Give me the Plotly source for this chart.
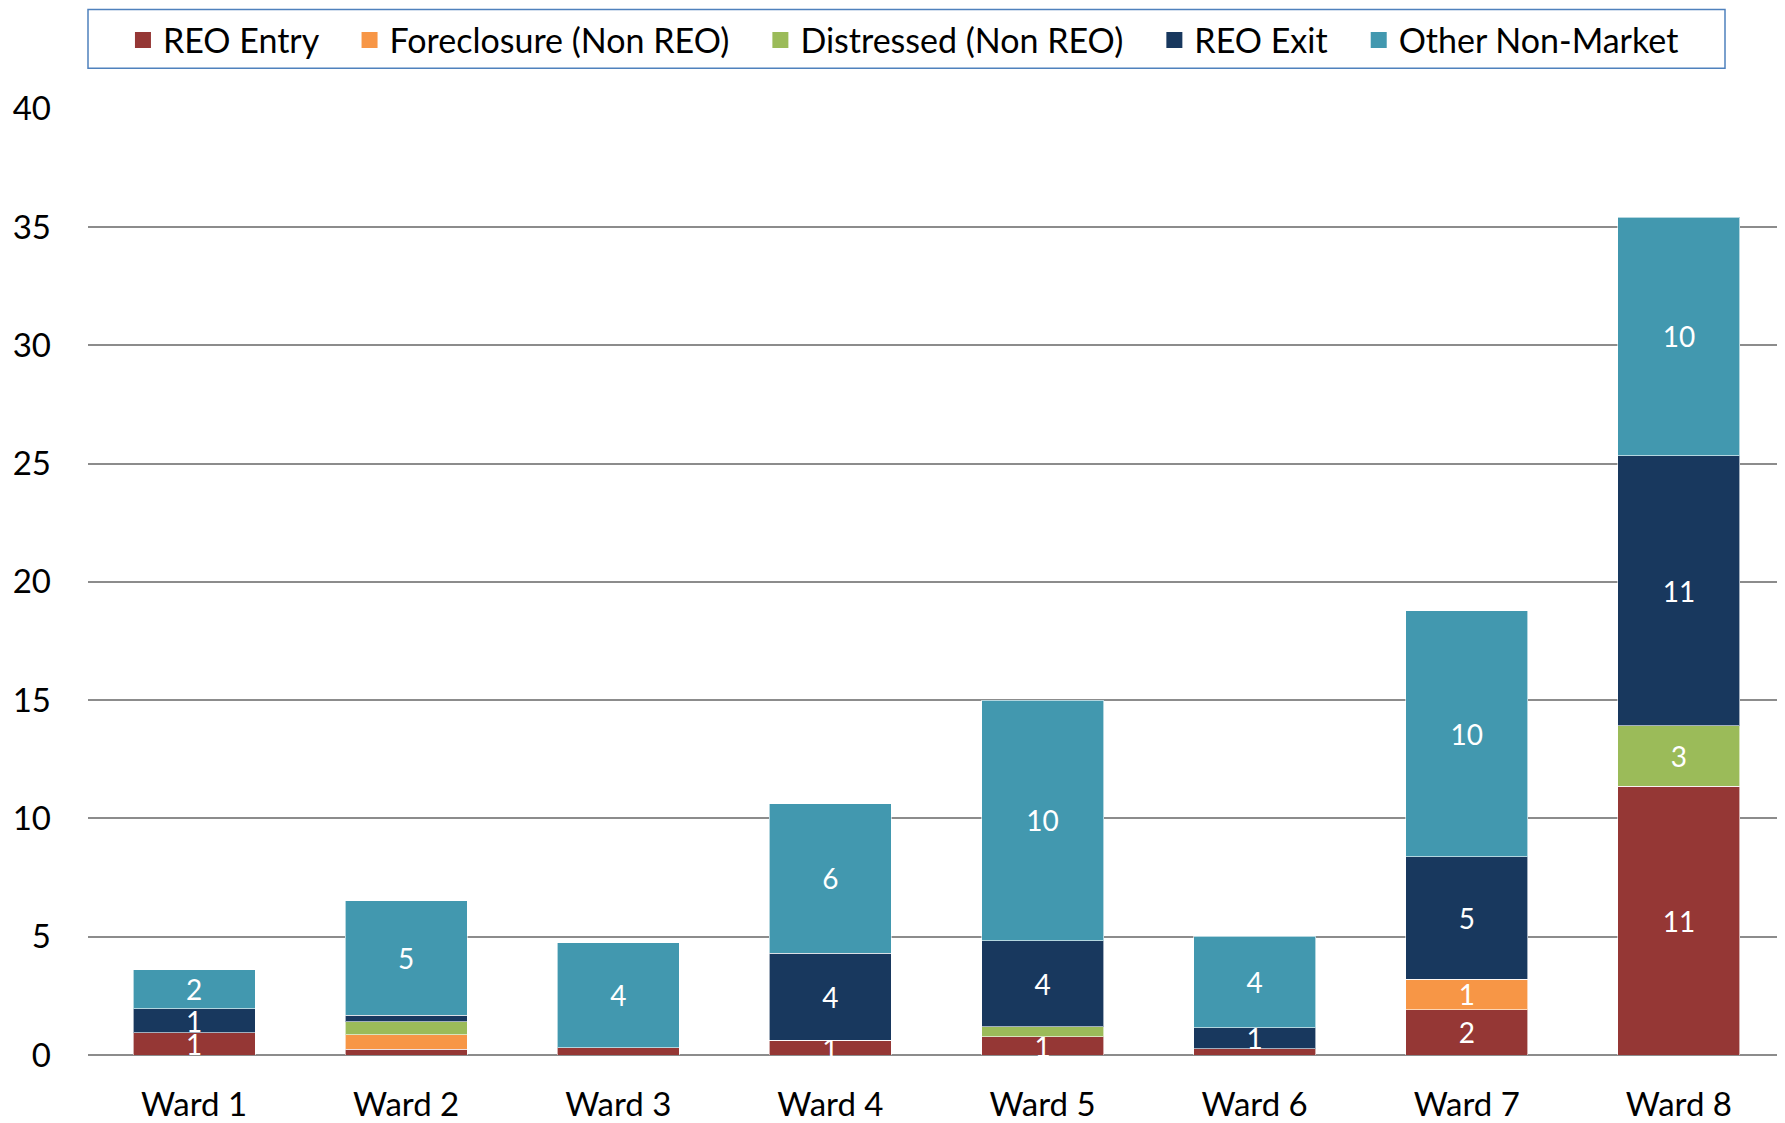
import plotly.graph_objects as go

wards = ["Ward 1", "Ward 2", "Ward 3", "Ward 4", "Ward 5", "Ward 6", "Ward 7", "Ward 8"]

reo_entry = [0.95, 0.24, 0.31, 0.63, 0.78, 0.26, 1.92, 11.37]
foreclosure = [0, 0.61, 0, 0, 0, 0, 1.29, 0]
distressed = [0, 0.56, 0, 0, 0.41, 0, 0, 2.54]
reo_exit = [1.00, 0.27, 0, 3.68, 3.65, 0.90, 5.17, 11.43]
other = [1.65, 4.83, 4.43, 6.32, 10.16, 3.87, 10.40, 10.08]

# which data labels are visible in the original
show_reo_entry = [1, 0, 0, 1, 1, 0, 1, 1]
show_foreclosure = [0, 0, 0, 0, 0, 0, 1, 0]
show_distressed = [0, 0, 0, 0, 0, 0, 0, 1]
show_reo_exit = [1, 0, 0, 1, 1, 1, 1, 1]
show_other = [1, 1, 1, 1, 1, 1, 1, 1]

y_ticks = [0, 5, 10, 15, 20, 25, 30, 35, 40]

series = [
    ("REO Entry", reo_entry, show_reo_entry, "#953735"),
    ("Foreclosure (Non REO)", foreclosure, show_foreclosure, "#F79646"),
    ("Distressed (Non REO)", distressed, show_distressed, "#9BBB59"),
    ("REO Exit", reo_exit, show_reo_exit, "#18385E"),
    ("Other Non-Market", other, show_other, "#4298AF"),
]

FONT = "Lato, Carlito, Calibri, sans-serif"
PAD = "\u00a0\u00a0\u00a0"

fig = go.Figure()
for i, (name, vals, show, color) in enumerate(series):
    labels = [f"{v:.0f}" if s else "" for v, s in zip(vals, show)]
    fig.add_trace(go.Bar(
        name=name, x=wards, y=vals, marker_color=color,
        marker_line=dict(color="rgba(255,255,255,0.6)", width=1),
        text=labels, texttemplate="%{text}", textposition="inside",
        insidetextanchor="middle", textangle=0, constraintext="none",
        textfont=dict(family=FONT, size=28, color="white"),
        cliponaxis=False, showlegend=False, legendgroup=name,
    ))
for i, (name, vals, show, color) in enumerate(series):
    # legend entry with a larger square swatch
    fig.add_trace(go.Scatter(
        name=name + PAD, x=[None], y=[None], mode="markers",
        marker=dict(symbol="square", size=16, color=color),
        legendgroup=name, showlegend=True, legendrank=i + 1,
    ))

fig.update_layout(
    barmode="stack",
    bargap=0.425,
    width=1777, height=1115,
    margin=dict(l=80, r=0, t=100, b=64),
    paper_bgcolor="white", plot_bgcolor="white",
    font=dict(family=FONT, color="black"),
    uniformtext=dict(minsize=28, mode="show"),
    showlegend=True,
    legend=dict(
        orientation="h", x=0.0206, xanchor="left", y=1.102, yanchor="top",
        font=dict(family=FONT, size=34, color="black"),
        bgcolor="rgba(0,0,0,0)", borderwidth=0,
        traceorder="normal", itemwidth=30, itemsizing="trace",
    ),
    shapes=[dict(
        type="rect", xref="paper", yref="paper",
        x0=0, x1=(1725 - 88) / 1697, y0=1 + (108 - 68) / 951, y1=1 + (108 - 9) / 951,
        line=dict(color="#4F81BD", width=1.5), fillcolor="rgba(0,0,0,0)", layer="above",
    )],
)

fig.update_xaxes(
    showgrid=False, showline=False, ticks="",
    tickfont=dict(family=FONT, size=33, color="black"),
    ticklabelstandoff=27,
)
fig.update_yaxes(
    range=[0, 40.03], tickvals=y_ticks, ticktext=[str(t) for t in y_ticks],
    showgrid=True, gridcolor="#8C8C8C", gridwidth=1.5,
    zeroline=True, zerolinecolor="#8C8C8C", zerolinewidth=2,
    showline=False, ticks="",
    tickfont=dict(family=FONT, size=33, color="black"),
    ticklabelstandoff=36,
)

fig.write_html("out.html")
